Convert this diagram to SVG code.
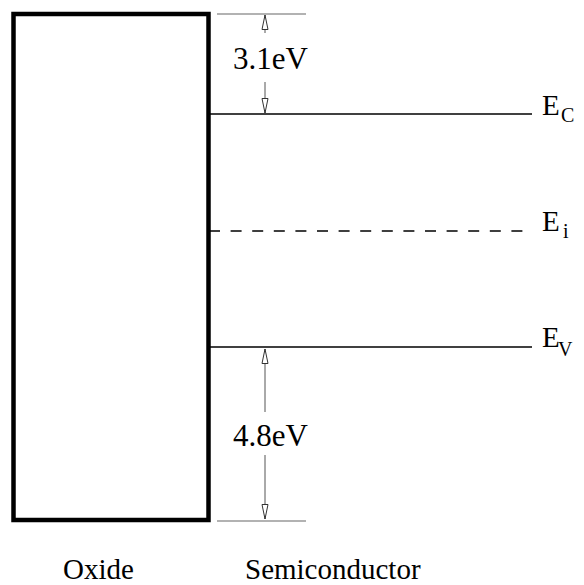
<svg xmlns="http://www.w3.org/2000/svg" width="584" height="585" viewBox="0 0 584 585">
<style>
text{font-family:"Liberation Serif","Tinos","Nimbus Roman","Times New Roman","DejaVu Serif",serif;fill:#000}
.big{font-size:29px}
.gap{font-size:31px}
.sub{font-size:20px}
.lvl{stroke:#000;stroke-width:1.5;fill:none}
.ref{stroke:#666;stroke-width:1.2;fill:none}
.dim{stroke:#555;stroke-width:1;fill:none}
</style>
<defs>
<marker id="ah" viewBox="0 0 16 8" refX="15" refY="4" markerWidth="16" markerHeight="8" markerUnits="userSpaceOnUse" orient="auto">
<path d="M0.5,1 L15,4 L0.5,7 Z" fill="#fff" stroke="#333" stroke-width="1"/>
</marker>
</defs>
<g id="oxide">
<rect x="13.5" y="14" width="195" height="506" fill="none" stroke="#000" stroke-width="4.5"/>
<text class="big" x="63" y="579">Oxide</text>
</g>
<g id="semiconductor">
<text class="big" x="245" y="579">Semiconductor</text>
</g>
<g id="Ec">
<text class="big" x="542" y="115">E</text><text class="sub" x="561" y="122">C</text>
</g>
<g id="Ei">
<text class="big" x="542" y="231">E</text><text class="sub" x="563" y="238">i</text>
</g>
<g id="Ev">
<text class="big" x="542" y="347">E</text><text class="sub" x="558" y="356">V</text>
</g>
<g id="gap1">
<text class="gap" x="233" y="69">3.1eV</text>
</g>
<g id="gap2">
<text class="gap" x="233" y="446">4.8eV</text>
</g>
<g id="connectors">
<line class="ref" x1="217" y1="14" x2="306" y2="14"/>
<line class="ref" x1="217" y1="521" x2="306" y2="521"/>
<line class="lvl" x1="209" y1="114" x2="532" y2="114"/>
<line class="lvl" x1="209" y1="231" x2="524" y2="231" stroke-dasharray="11 10.6"/>
<line class="lvl" x1="209" y1="347" x2="532" y2="347"/>
<line class="dim" x1="265" y1="33" x2="265" y2="15" marker-end="url(#ah)"/>
<line class="dim" x1="265" y1="82" x2="265" y2="113" marker-end="url(#ah)"/>
<line class="dim" x1="265" y1="412" x2="265" y2="349" marker-end="url(#ah)"/>
<line class="dim" x1="265" y1="455" x2="265" y2="519" marker-end="url(#ah)"/>
</g>
</svg>
